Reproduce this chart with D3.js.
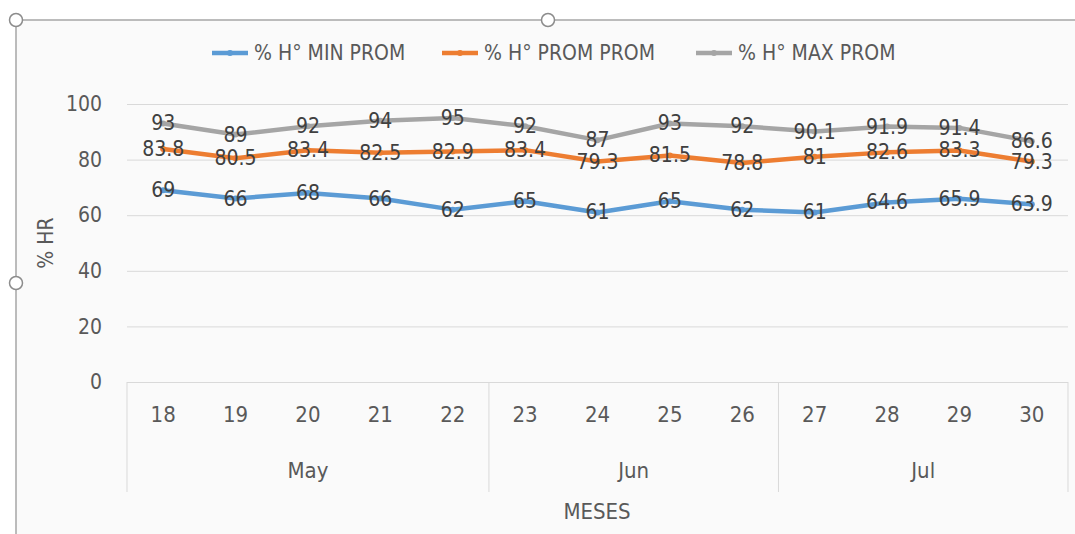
<!DOCTYPE html>
<html>
<head>
<meta charset="utf-8">
<script src="https://cdn.jsdelivr.net/npm/d3@7"></script>
<style>
  html, body { margin: 0; padding: 0; background: #fff; }
  svg text { font-family: "Liberation Sans Narrow", "DejaVu Sans Condensed", "Liberation Sans", sans-serif; }
</style>
</head>
<body>
<svg width="1075" height="534"></svg>
<script>
// Data
const days = ['18', '19', '20', '21', '22', '23', '24', '25', '26', '27', '28', '29', '30'];
const months = ['May', 'Jun', 'Jul'];
const monthDays = [5, 4, 4];
const minProm = [69, 66, 68, 66, 62, 65, 61, 65, 62, 61, 64.6, 65.9, 63.9];
const promProm = [83.8, 80.5, 83.4, 82.5, 82.9, 83.4, 79.3, 81.5, 78.8, 81, 82.6, 83.3, 79.3];
const maxProm = [93, 89, 92, 94, 95, 92, 87, 93, 92, 90.1, 91.9, 91.4, 86.6];
const yTicks = [0, 20, 40, 60, 80, 100];
const seriesNames = ['% H° MIN PROM', '% H° PROM PROM', '% H° MAX PROM'];
const seriesColors = ['#5b9bd5', '#ed7d31', '#a5a5a5'];

const svg = d3.select('svg'),
  width = +svg.attr('width'),
  height = +svg.attr('height');

// chart frame (background + selection border)
svg.append('rect')
  .attr('x', 16).attr('y', 20)
  .attr('width', width - 16).attr('height', height - 20)
  .style('fill', '#fafafa');
svg.append('path')
  .attr('d', `M16,${height} V20 H${width}`)
  .style('fill', 'none')
  .style('stroke', '#a6a6a6')
  .style('stroke-width', 1.5);
[[16, 20], [548, 20], [16, 283]].forEach(function (c) {
  svg.append('circle')
    .attr('cx', c[0]).attr('cy', c[1]).attr('r', 6.5)
    .style('fill', '#fff')
    .style('stroke', '#8c8c8c')
    .style('stroke-width', 1.5);
});

// scales
const x = d3.scaleBand().domain(days).range([127, 1068]);
const y = d3.scaleLinear().domain([0, 100]).range([382, 104]);

// gridlines + y labels
const yAxis = svg.append('g')
  .attr('transform', 'translate(127,0)')
  .call(d3.axisLeft(y).tickValues(yTicks).tickSize(-(1068 - 127)).tickPadding(25));
yAxis.select('.domain').remove();
yAxis.selectAll('.tick line').style('stroke', '#d9d9d9').style('stroke-width', 1);
yAxis.selectAll('.tick text')
  .style('font-size', '21px')
  .style('fill', '#595959');

// category axis: days
const xAxis = svg.append('g')
  .attr('transform', 'translate(0,382)')
  .call(d3.axisBottom(x).tickSize(0).tickPadding(24));
xAxis.select('.domain').remove();
xAxis.selectAll('.tick text')
  .style('font-size', '22px')
  .style('fill', '#595959');

// month groups
let start = 0;
const bounds = [x(days[0])];
months.forEach(function (m, i) {
  const first = days[start];
  const last = days[start + monthDays[i] - 1];
  const x0 = x(first), x1 = x(last) + x.bandwidth();
  bounds.push(x1);
  svg.append('text')
    .attr('x', (x0 + x1) / 2)
    .attr('y', 470)
    .attr('text-anchor', 'middle')
    .attr('dominant-baseline', 'central')
    .style('font-size', '22px')
    .style('fill', '#595959')
    .text(m);
  start += monthDays[i];
});
svg.selectAll('.sep')
  .data(bounds)
  .enter()
  .append('line')
  .attr('class', 'sep')
  .attr('x1', d => d).attr('x2', d => d)
  .attr('y1', 382).attr('y2', 492)
  .style('stroke', '#d9d9d9')
  .style('stroke-width', 1);

// axis titles
svg.append('text')
  .attr('x', 597).attr('y', 511)
  .attr('text-anchor', 'middle')
  .attr('dominant-baseline', 'central')
  .style('font-size', '22px')
  .style('fill', '#595959')
  .text('MESES');
svg.append('text')
  .attr('transform', 'translate(46,243) rotate(-90)')
  .attr('text-anchor', 'middle')
  .attr('dominant-baseline', 'central')
  .style('font-size', '21px')
  .style('fill', '#595959')
  .text('% HR');

// series
const series = [minProm, promProm, maxProm];
const line = d3.line()
  .x((d, i) => x(days[i]) + x.bandwidth() / 2)
  .y(d => y(d));

series.forEach(function (vals, s) {
  const g = svg.append('g');
  g.append('path')
    .datum(vals)
    .attr('d', line)
    .style('fill', 'none')
    .style('stroke', seriesColors[s])
    .style('stroke-width', 4.5)
    .style('stroke-linejoin', 'round')
    .style('stroke-linecap', 'round');
  g.selectAll('circle')
    .data(vals)
    .enter()
    .append('circle')
    .attr('cx', (d, i) => x(days[i]) + x.bandwidth() / 2)
    .attr('cy', d => y(d))
    .attr('r', 3)
    .style('fill', seriesColors[s]);
});

// data labels (centered on points)
series.forEach(function (vals, s) {
  svg.append('g')
    .selectAll('text')
    .data(vals)
    .enter()
    .append('text')
    .attr('x', (d, i) => x(days[i]) + x.bandwidth() / 2)
    .attr('y', d => y(d))
    .attr('text-anchor', 'middle')
    .attr('dominant-baseline', 'central')
    .style('font-size', '21px')
    .style('fill', '#404040')
    .text(d => d);
});

// legend
const legendX = [212, 442, 696];
seriesNames.forEach(function (name, s) {
  const g = svg.append('g').attr('transform', `translate(${legendX[s]},53)`);
  g.append('line')
    .attr('x1', 0).attr('x2', 36)
    .style('stroke', seriesColors[s])
    .style('stroke-width', 4.5);
  g.append('circle')
    .attr('cx', 18).attr('r', 3)
    .style('fill', seriesColors[s]);
  g.append('text')
    .attr('x', 42)
    .attr('dominant-baseline', 'central')
    .style('font-size', '21px')
    .style('fill', '#595959')
    .text(name);
});
</script>
</body>
</html>
